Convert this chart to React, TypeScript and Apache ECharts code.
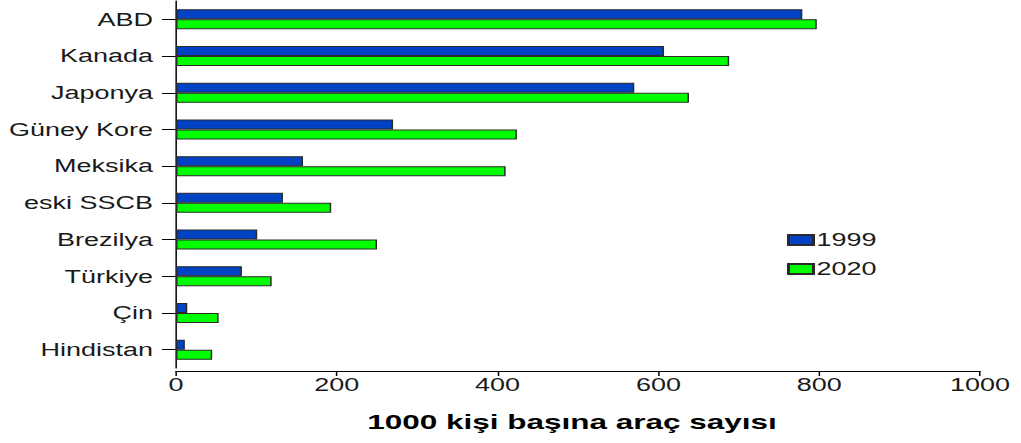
import React, { useEffect, useRef } from "react";
import * as echarts from "echarts";

const categories = ["ABD", "Kanada", "Japonya", "Güney Kore", "Meksika", "eski SSCB", "Brezilya", "Türkiye", "Çin", "Hindistan"];
const values1999 = [779, 607, 570, 270, 158, 133, 101, 82, 14, 11];
const values2020 = [797, 688, 638, 424, 410, 193, 250, 119, 53, 45];
const seriesNames = ["1999", "2020"];
const axisTitle = "1000 kişi başına araç sayısı";
const xMin = 0;
const xMax = 1000;
const xInterval = 200;

const OUTER_W = 1021;
const OUTER_H = 443;
const INNER_W = 681;
const SX = OUTER_W / INNER_W;
const ix = (outer: number) => outer / SX;

const FONT = "'Liberation Sans', Arial, sans-serif";

export default function App() {
  const ref = useRef<HTMLDivElement>(null);
  useEffect(() => {
    if (!ref.current) return;
    const chart = echarts.init(ref.current, null, { renderer: "svg", width: INNER_W, height: OUTER_H });
    const axisLeft = ix(176);
    const axisRight = ix(980);
    chart.setOption({
      animation: false,
      backgroundColor: "#ffffff",
      textStyle: { fontFamily: FONT },
      grid: {
        left: axisLeft,
        right: INNER_W - axisRight,
        top: 1,
        bottom: OUTER_H - 368,
        containLabel: false,
        outerBoundsMode: "none",
      },
      legend: {
        orient: "vertical",
        left: ix(787),
        top: 231,
        padding: 0,
        itemWidth: ix(812) - ix(787),
        itemHeight: 10,
        itemGap: 11,
        icon: "rect",
        textStyle: { fontSize: 18, lineHeight: 18, color: "#1a1a1a", fontFamily: FONT, padding: [0, 0, 0, -3] },
        data: seriesNames,
      },
      xAxis: {
        type: "value",
        min: xMin,
        max: xMax,
        interval: xInterval,
        offset: 3,
        splitLine: { show: false },
        axisLine: { show: true, lineStyle: { color: "#000", width: 1 } },
        axisTick: { show: true, length: 5, lineStyle: { color: "#000" } },
        axisLabel: { fontSize: 18, color: "#1a1a1a", margin: 5, fontFamily: FONT, formatter: (v: number) => String(v) },
        name: axisTitle,
        nameLocation: "middle",
        nameGap: 40,
        nameTextStyle: { fontSize: 21, fontWeight: "bold", color: "#000", fontFamily: FONT, padding: [0, 8, 0, 0] },
      },
      yAxis: {
        type: "category",
        inverse: true,
        data: categories,
        axisLine: { show: true, lineStyle: { color: "#000", width: 1 } },
        axisTick: { show: true, alignWithLabel: true, length: ix(176) - ix(162), lineStyle: { color: "#000" } },
        axisLabel: { fontSize: 18, color: "#1a1a1a", margin: ix(176) - ix(153), fontFamily: FONT },
        splitLine: { show: false },
      },
      series: [
        {
          name: seriesNames[0],
          type: "bar",
          data: values1999,
          barWidth: 10,
          barGap: "0%",
          itemStyle: { color: "#0042c4", borderColor: "#2a2a2a", borderWidth: 1 },
        },
        {
          name: seriesNames[1],
          type: "bar",
          data: values2020,
          barWidth: 10,
          barGap: "0%",
          itemStyle: { color: "#00ff00", borderColor: "#2a2a2a", borderWidth: 1 },
        },
      ],
    });
    return () => chart.dispose();
  }, []);

  return (
    <div style={{ position: "absolute", left: 0, top: 0, width: OUTER_W, height: OUTER_H, overflow: "hidden", background: "#fff" }}>
      <div
        ref={ref}
        style={{ width: INNER_W, height: OUTER_H, transform: `scaleX(${SX})`, transformOrigin: "0 0" }}
      />
    </div>
  );
}
